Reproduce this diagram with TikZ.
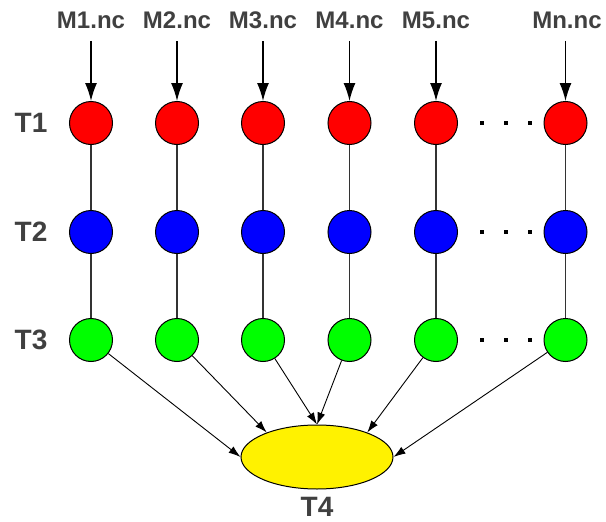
\documentclass[tikz,border=0pt]{standalone}
\usepackage{fontspec}
\setmainfont{Liberation Sans}
\usetikzlibrary{positioning,arrows.meta,shapes.geometric}
\definecolor{labelgray}{HTML}{404040}
\definecolor{linegray}{HTML}{333333}
\tikzset{>={Latex[length=12pt,width=8pt]}}

\begin{document}
\begin{tikzpicture}[x=1pt,y=-1pt,
    every text node part/.style={align=center},
    file/.style={font=\bfseries\fontsize{24}{28}\selectfont,text=labelgray},
    stage/.style={font=\bfseries\fontsize{28}{32}\selectfont,text=labelgray},
    ball/.style={circle,draw=black,line width=1pt,minimum size=43pt,inner sep=0pt},
    dot/.style={rectangle,fill=black,minimum size=3.5pt,inner sep=0pt},
    feed/.style={->,>={Latex[length=18pt,width=12pt]},line width=1.4pt,shorten <=9pt},
    link/.style={draw=linegray,line width=1.4pt},
    merge/.style={->,line width=0.9pt}]

      \useasboundingbox (0,0) rectangle (606,522);

      \node[file] (M1) at (91,20)   {M1.nc};
      \node[file] (M2) at (177,20)  {M2.nc};
      \node[file] (M3) at (263,20)  {M3.nc};
      \node[file] (M4) at (349.5,20) {M4.nc};
      \node[file] (M5) at (436,20)  {M5.nc};
      \node[file] (Mn) at (567,20)  {Mn.nc};

      \node[stage] (T1) at (31,123) {T1};
      \node[stage] (T2) at (31,232) {T2};
      \node[stage] (T3) at (31,340) {T3};

      % first stage
      \node[ball,fill=red] (c11) at (91,123)    {};
      \node[ball,fill=red] (c12) at (177,123)   {};
      \node[ball,fill=red] (c13) at (263,123)   {};
      \node[ball,fill=red] (c14) at (349.5,123) {};
      \node[ball,fill=red] (c15) at (436,123)   {};
      \node[ball,fill=red] (c16) at (565.5,123) {};

      % second stage
      \node[ball,fill=blue] (c21) at (91,232)    {};
      \node[ball,fill=blue] (c22) at (177,232)   {};
      \node[ball,fill=blue] (c23) at (263,232)   {};
      \node[ball,fill=blue] (c24) at (349.5,232) {};
      \node[ball,fill=blue] (c25) at (436,232)   {};
      \node[ball,fill=blue] (c26) at (565.5,232) {};

      % third stage
      \node[ball,fill=green] (c31) at (91,340)    {};
      \node[ball,fill=green] (c32) at (177,340)   {};
      \node[ball,fill=green] (c33) at (263,340)   {};
      \node[ball,fill=green] (c34) at (349.5,340) {};
      \node[ball,fill=green] (c35) at (436,340)   {};
      \node[ball,fill=green] (c36) at (565.5,340) {};

      \node[dot] (d11) at (482,123) {};
      \node[dot] (d12) at (506,123) {};
      \node[dot] (d13) at (530,123) {};
      \node[dot] (d21) at (482,232) {};
      \node[dot] (d22) at (506,232) {};
      \node[dot] (d23) at (530,232) {};
      \node[dot] (d31) at (482,340) {};
      \node[dot] (d32) at (506,340) {};
      \node[dot] (d33) at (530,340) {};

      \node[ellipse,draw=black,line width=1pt,fill=yellow,
            minimum width=152pt,minimum height=64pt] (T4) at (317,457) {};
      \node[stage,inner sep=1pt] (T4lab) at (317,507) {T4};

      \draw[feed] (M1) -- (c11);
      \draw[feed] (M2) -- (c12);
      \draw[feed] (M3) -- (c13);
      \draw[feed] (M4) -- (c14);
      \draw[feed] (M5) -- (c15);
      \draw[feed] (Mn.south -| c16) -- (c16);

      \draw[link] (c11) -- (c21);
      \draw[link] (c12) -- (c22);
      \draw[link] (c13) -- (c23);
      \draw[link] (c14) -- (c24);
      \draw[link] (c15) -- (c25);
      \draw[link] (c16) -- (c26);

      \draw[link] (c21) -- (c31);
      \draw[link] (c22) -- (c32);
      \draw[link] (c23) -- (c33);
      \draw[link] (c24) -- (c34);
      \draw[link] (c25) -- (c35);
      \draw[link] (c26) -- (c36);

      \draw[merge] (c31) -- (T4.west);
      \draw[merge] (c32) -- (T4.154);
      \draw[merge] (c33) -- (T4.north);
      \draw[merge] (c34) -- (T4.north);
      \draw[merge] (c35) -- (T4.26);
      \draw[merge] (c36) -- (T4.east);
    \end{tikzpicture}
\end{document}
